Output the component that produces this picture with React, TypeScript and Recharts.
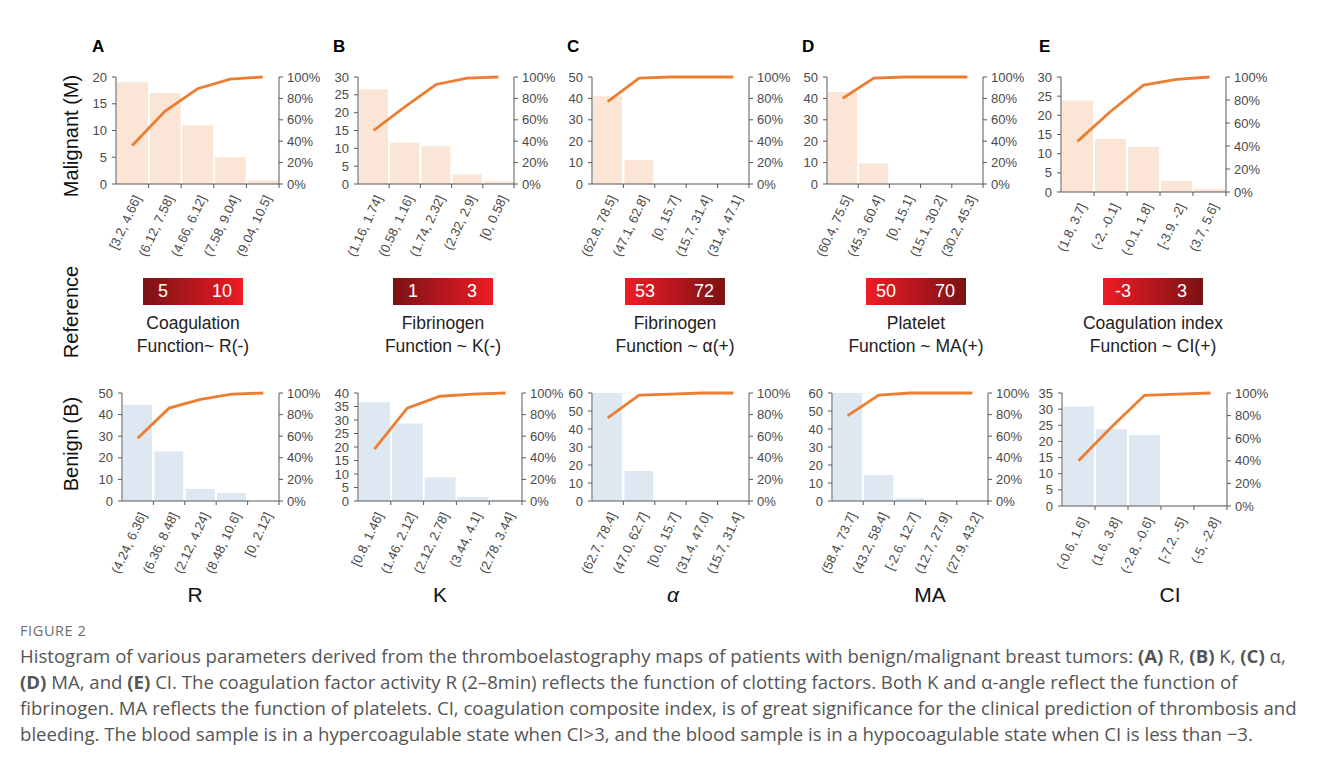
import React from "react";
import { ComposedChart, Bar, Line, XAxis, YAxis } from "recharts";

const FONT = '"Liberation Sans", Arial, sans-serif';
const CAPTION_FONT = '"Open Sans", "Noto Sans", sans-serif';
const AXIS = "#595959";
const TICK_TEXT = "#4a4a4a";
const ORANGE = "#ed7d31";
const PEACH = "#fbe5d6";
const BLUE = "#dde8f3";
const DARK_RED = "#7b1214";
const RED = "#ee1c25";

// Malignant (top row)
const binsMR = ["[3.2, 4.66]", "(6.12, 7.58]", "(4.66, 6.12]", "(7.58, 9.04]", "(9.04, 10.5]"];
const countMR = [19, 17, 11, 5, 0.7];
const cumMR = [36, 68, 89, 98, 100];
const ticksMR = [0, 5, 10, 15, 20];

const binsMK = ["(1.16, 1.74]", "(0.58, 1.16]", "(1.74, 2.32]", "(2.32, 2.9]", "[0, 0.58]"];
const countMK = [26.6, 11.6, 10.6, 2.7, 0.8];
const cumMK = [50, 72, 93, 99, 100];
const ticksMK = [0, 5, 10, 15, 20, 25, 30];

const binsMA = ["(62.8, 78.5]", "(47.1, 62.8]", "[0, 15.7]", "(15.7, 31.4]", "(31.4, 47.1]"];
const countMA = [41, 11.2, 0, 0, 0];
const cumMA = [77, 99, 100, 100, 100];
const ticksMA = [0, 10, 20, 30, 40, 50];

const binsMMA = ["(60.4, 75.5]", "(45.3, 60.4]", "[0, 15.1]", "(15.1, 30.2]", "(30.2, 45.3]"];
const countMMA = [43, 9.6, 0, 0, 0];
const cumMMA = [80, 99, 100, 100, 100];
const ticksMMA = [0, 10, 20, 30, 40, 50];

const binsMCI = ["(1.8, 3.7]", "(-2, -0.1]", "(-0.1, 1.8]", "[-3.9, -2]", "(3.7, 5.6]"];
const countMCI = [23.9, 13.9, 11.8, 2.9, 0.8];
const cumMCI = [44, 70, 93, 98, 100];
const ticksMCI = [0, 5, 10, 15, 20, 25, 30];

// Benign (bottom row)
const binsBR = ["(4.24, 6.36]", "(6.36, 8.48]", "(2.12, 4.24]", "(8.48, 10.6]", "[0, 2.12]"];
const countBR = [44.6, 22.9, 5.6, 3.7, 0];
const cumBR = [58, 86, 94, 99, 100];
const ticksBR = [0, 10, 20, 30, 40, 50];

const binsBK = ["[0.8, 1.46]", "(1.46, 2.12]", "(2.12, 2.78]", "(3.44, 4.1]", "(2.78, 3.44]"];
const countBK = [36.6, 28.7, 8.7, 1.5, 0.5];
const cumBK = [48, 86, 97, 99, 100];
const ticksBK = [0, 5, 10, 15, 20, 25, 30, 35, 40];

const binsBA = ["(62.7, 78.4]", "(47.0, 62.7]", "[0.0, 15.7]", "(31.4, 47.0]", "(15.7, 31.4]"];
const countBA = [60, 16.7, 0, 0, 0];
const cumBA = [77, 98, 99, 100, 100];
const ticksBA = [0, 10, 20, 30, 40, 50, 60];

const binsBMA = ["(58.4, 73.7]", "(43.2, 58.4]", "[-2.6, 12.7]", "(12.7, 27.9]", "(27.9, 43.2]"];
const countBMA = [60, 14.5, 1.5, 0, 0];
const cumBMA = [79, 98, 100, 100, 100];
const ticksBMA = [0, 10, 20, 30, 40, 50, 60];

const binsBCI = ["(-0.6, 1.6]", "(1.6, 3.8]", "(-2.8, -0.6]", "[-7.2, -5]", "(-5, -2.8]"];
const countBCI = [30.8, 23.8, 22, 0, 0.4];
const cumBCI = [40, 70, 98, 99, 100];
const ticksBCI = [0, 5, 10, 15, 20, 25, 30, 35];

const pctTicks = [0, 20, 40, 60, 80, 100];

const LW = 40;
const RW = 50;
const TOP = 8;
const XH = 80;

function BinTick(props: any) {
  const { x, y, payload, band } = props;
  const tx = x + 5;
  const ty = y + 12;
  return (
    <g>
      <line x1={x + band / 2} x2={x + band / 2} y1={y} y2={y + 4} stroke={AXIS} />
      <text
        x={tx}
        y={ty}
        transform={`rotate(-65 ${tx} ${ty})`}
        textAnchor="end"
        dy="0.35em"
        fontSize={13}
        fill={TICK_TEXT}
        fontFamily={FONT}
      >
        {payload.value}
      </text>
    </g>
  );
}

function Histo(props: {
  bins: string[];
  counts: number[];
  cum: number[];
  ticks: number[];
  fill: string;
  left: number;
  right: number;
  top: number;
  bottom: number;
}) {
  const { bins, counts, cum, ticks, fill, left, right, top, bottom } = props;
  const data = bins.map((b, i) => ({ bin: b, n: counts[i], cum: cum[i] }));
  const pw = right - left;
  const ph = bottom - top;
  const band = pw / bins.length;
  const tickStyle = { fill: TICK_TEXT, fontSize: 13, fontFamily: FONT };
  return (
    <div style={{ position: "absolute", left: left - LW, top: top - TOP }}>
      <ComposedChart
        width={pw + LW + RW}
        height={ph + TOP + XH}
        data={data}
        margin={{ top: TOP, right: 0, bottom: 0, left: 0 }}
        barCategoryGap={1}
      >
        <XAxis
          dataKey="bin"
          height={XH}
          interval={0}
          tickSize={0}
          tickMargin={0}
          tickLine={false}
          axisLine={{ stroke: AXIS }}
          tick={<BinTick band={band} />}
        />
        <YAxis
          yAxisId="left"
          width={LW}
          domain={[0, ticks[ticks.length - 1]]}
          ticks={ticks}
          interval={0}
          allowDataOverflow
          tick={tickStyle}
          tickSize={4}
          tickMargin={5}
          axisLine={{ stroke: AXIS }}
          tickLine={{ stroke: AXIS }}
        />
        <YAxis
          yAxisId="right"
          orientation="right"
          width={RW}
          domain={[0, 100]}
          ticks={pctTicks}
          interval={0}
          tickFormatter={(v: number) => `${v}%`}
          tick={tickStyle}
          tickSize={4}
          tickMargin={4}
          axisLine={{ stroke: AXIS }}
          tickLine={{ stroke: AXIS }}
        />
        <Bar yAxisId="left" dataKey="n" fill={fill} isAnimationActive={false} />
        <Line
          yAxisId="right"
          dataKey="cum"
          type="linear"
          stroke={ORANGE}
          strokeWidth={2.8}
          dot={false}
          isAnimationActive={false}
        />
      </ComposedChart>
    </div>
  );
}

function RefBox(props: { cx: number; a: string; b: string; dark: "left" | "right"; l1: string; l2: React.ReactNode }) {
  const { cx, a, b, dark, l1, l2 } = props;
  const bg =
    dark === "left"
      ? `linear-gradient(to right, ${DARK_RED}, ${RED})`
      : `linear-gradient(to right, ${RED}, ${DARK_RED})`;
  return (
    <>
      <div
        style={{
          position: "absolute",
          left: cx - 50,
          top: 278,
          width: 100,
          height: 27,
          background: bg,
          color: "#fff",
          fontFamily: FONT,
          fontSize: 18,
          lineHeight: "27px",
        }}
      >
        <span style={{ position: "absolute", left: 0, width: 40, textAlign: "center" }}>{a}</span>
        <span style={{ position: "absolute", right: 0, width: 42, textAlign: "center" }}>{b}</span>
      </div>
      <div
        style={{
          position: "absolute",
          left: cx - 110,
          top: 312,
          width: 220,
          textAlign: "center",
          fontFamily: FONT,
          fontSize: 17.5,
          lineHeight: "23px",
          color: "#222",
        }}
      >
        <div>{l1}</div>
        <div>{l2}</div>
      </div>
    </>
  );
}

const abs = (x: number, y: number, extra: React.CSSProperties = {}): React.CSSProperties => ({
  position: "absolute",
  left: x,
  top: y,
  fontFamily: FONT,
  ...extra,
});

function Letter({ x, t }: { x: number; t: string }) {
  return <div style={abs(x - 6, 37, { fontWeight: "bold", fontSize: 17, color: "#000" })}>{t}</div>;
}

function AxisTitle({ cx, t, italic }: { cx: number; t: string; italic?: boolean }) {
  return (
    <div
      style={abs(cx - 40, 583, {
        width: 80,
        textAlign: "center",
        fontSize: 21,
        color: "#111",
        fontStyle: italic ? "italic" : "normal",
      })}
    >
      {t}
    </div>
  );
}

function RowLabel({ cy, t }: { cy: number; t: string }) {
  return (
    <div
      style={abs(71 - 100, cy - 12, {
        width: 200,
        height: 24,
        lineHeight: "24px",
        textAlign: "center",
        fontSize: 20,
        color: "#111",
        transform: "rotate(-90deg)",
      })}
    >
      {t}
    </div>
  );
}

const captionLines = [
  "Histogram of various parameters derived from the thromboelastography maps of patients with benign/malignant breast tumors: ",
  ". The coagulation factor activity R (2–8min) reflects the function of clotting factors. Both K and α-angle reflect the function of",
  "fibrinogen. MA reflects the function of platelets. CI, coagulation composite index, is of great significance for the clinical prediction of thrombosis and",
  "bleeding. The blood sample is in a hypercoagulable state when CI>3, and the blood sample is in a hypocoagulable state when CI is less than −3.",
];

export default function App() {
  return (
    <div style={{ position: "absolute", left: 0, top: 0, width: 1328, height: 767, background: "#fff", overflow: "hidden" }}>
      <Letter x={98} t="A" />
      <Letter x={339} t="B" />
      <Letter x={573} t="C" />
      <Letter x={808} t="D" />
      <Letter x={1045} t="E" />

      <RowLabel cy={136} t="Malignant (M)" />
      <RowLabel cy={312} t="Reference" />
      <RowLabel cy={444} t="Benign (B)" />

      <Histo bins={binsMR} counts={countMR} cum={cumMR} ticks={ticksMR} fill={PEACH} left={116} right={279} top={77} bottom={184} />
      <Histo bins={binsMK} counts={countMK} cum={cumMK} ticks={ticksMK} fill={PEACH} left={358} right={514} top={77} bottom={184} />
      <Histo bins={binsMA} counts={countMA} cum={cumMA} ticks={ticksMA} fill={PEACH} left={592} right={749} top={77} bottom={184} />
      <Histo bins={binsMMA} counts={countMMA} cum={cumMMA} ticks={ticksMMA} fill={PEACH} left={827} right={983} top={77} bottom={184} />
      <Histo bins={binsMCI} counts={countMCI} cum={cumMCI} ticks={ticksMCI} fill={PEACH} left={1061} right={1226} top={77} bottom={192} />

      <RefBox cx={193} a="5" b="10" dark="left" l1="Coagulation" l2="Function~ R(-)" />
      <RefBox cx={443} a="1" b="3" dark="left" l1="Fibrinogen" l2="Function ~ K(-)" />
      <RefBox cx={675} a="53" b="72" dark="right" l1="Fibrinogen" l2="Function ~ α(+)" />
      <RefBox cx={916} a="50" b="70" dark="right" l1="Platelet" l2="Function ~ MA(+)" />
      <RefBox cx={1153} a="-3" b="3" dark="right" l1="Coagulation index" l2="Function ~ CI(+)" />

      <Histo bins={binsBR} counts={countBR} cum={cumBR} ticks={ticksBR} fill={BLUE} left={122} right={279} top={393} bottom={501} />
      <Histo bins={binsBK} counts={countBK} cum={cumBK} ticks={ticksBK} fill={BLUE} left={358} right={522} top={393} bottom={501} />
      <Histo bins={binsBA} counts={countBA} cum={cumBA} ticks={ticksBA} fill={BLUE} left={592} right={749} top={393} bottom={501} />
      <Histo bins={binsBMA} counts={countBMA} cum={cumBMA} ticks={ticksBMA} fill={BLUE} left={832} right={988} top={393} bottom={501} />
      <Histo bins={binsBCI} counts={countBCI} cum={cumBCI} ticks={ticksBCI} fill={BLUE} left={1062} right={1227} top={393} bottom={506} />

      <AxisTitle cx={195} t="R" />
      <AxisTitle cx={440} t="K" />
      <AxisTitle cx={673} t="α" italic />
      <AxisTitle cx={930} t="MA" />
      <AxisTitle cx={1170} t="CI" />

      <div style={abs(20, 621, { fontFamily: CAPTION_FONT, fontSize: 14.5, color: "#6d6e71", letterSpacing: 0.6 })}>FIGURE 2</div>
      <div
        style={{
          position: "absolute",
          left: 20,
          top: 643,
          fontFamily: CAPTION_FONT,
          fontSize: 18.6,
          lineHeight: "26px",
          color: "#555",
          whiteSpace: "nowrap",
        }}
      >
        <div>
          {captionLines[0]}
          <b>(A)</b> R, <b>(B)</b> K, <b>(C)</b> α,
        </div>
        <div>
          <b>(D)</b> MA, and <b>(E)</b> CI{captionLines[1]}
        </div>
        <div>{captionLines[2]}</div>
        <div>{captionLines[3]}</div>
      </div>
    </div>
  );
}
